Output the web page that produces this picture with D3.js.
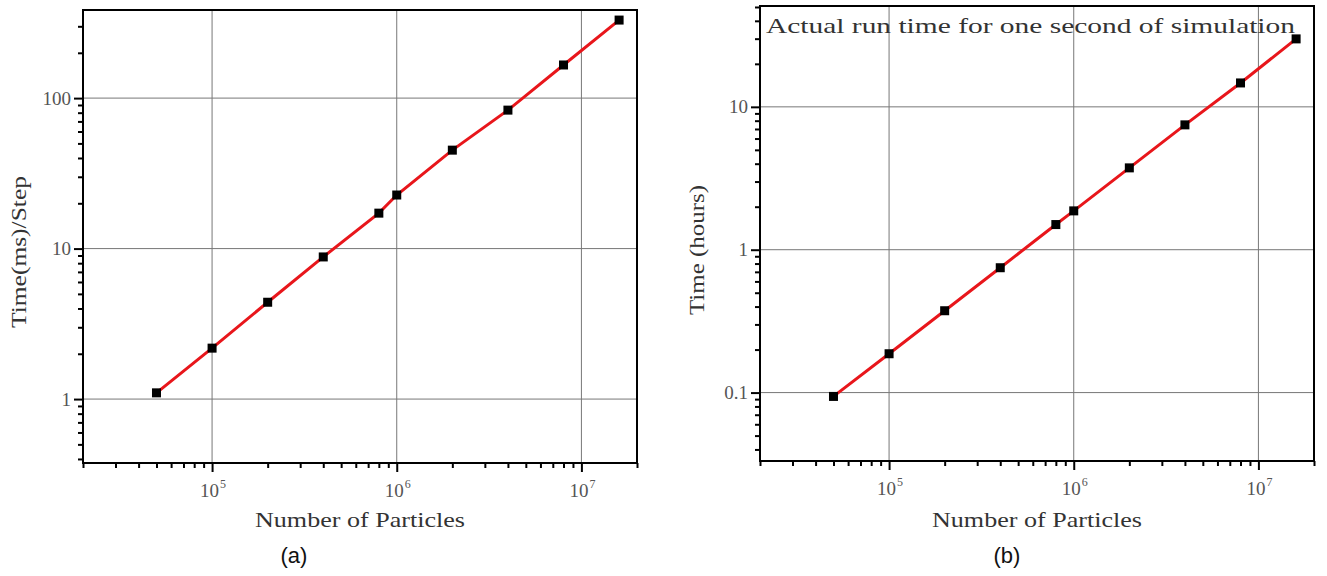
<!DOCTYPE html>
<html lang="en">
<head>
  <meta charset="UTF-8">
  <title>Run time vs number of particles</title>
  <style>
    body, html {
      margin: 0;
      padding: 0;
      background: #fff;
    }
    svg { display: block; }
    .ticklabel { font-family: 'Liberation Serif', serif; fill: #555; }
  </style>
</head>
<body>
  <svg id="chart" width="1327" height="576"></svg>

  <script src="https://d3js.org/d3.v7.min.js"></script>
  <script>
    // -------- DATA ------------
    const particles = [5e4, 1e5, 2e5, 4e5, 8e5, 1e6, 2e6, 4e6, 8e6, 1.6e7]
    // (a) time per step in ms
    const timeMsPerStep = [1.1, 2.18, 4.4, 8.8, 17.2, 22.7, 45.1, 83.2, 166, 330]
    // (b) wall clock hours for one simulated second
    const timeHours = [0.094, 0.187, 0.374, 0.748, 1.5, 1.87, 3.74, 7.48, 14.7, 29.9]

    const xMajorTicks = [1e5, 1e6, 1e7]
    const yMajorTicksA = [1, 10, 100]
    const yMajorTicksB = [0.1, 1, 10]
    const yTickLabelsA = ['1', '10', '100']
    const yTickLabelsB = ['0.1', '1', '10']

    const xLabel = 'Number of Particles'
    const yLabelA = 'Time(ms)/Step'
    const yLabelB = 'Time  (hours)'
    const titleB = 'Actual run time for one second of simulation'
    const panelNames = ['(a)', '(b)']

    const svg = d3.select('#chart')

    // -------- ONE PANEL ------------
    function drawPanel(cfg) {
      const x = d3.scaleLog().domain(cfg.xDomain).range([cfg.left, cfg.right])
      const y = d3.scaleLog().domain(cfg.yDomain).range([cfg.bottom, cfg.top])
      const g = svg.append('g')

      // grid lines at the decades
      g.selectAll('.vgrid')
        .data(xMajorTicks)
        .join('line')
        .attr('x1', d => x(d)).attr('x2', d => x(d))
        .attr('y1', cfg.top).attr('y2', cfg.bottom)
        .attr('stroke', '#777').attr('stroke-width', 1)
      g.selectAll('.hgrid')
        .data(cfg.yTicks)
        .join('line')
        .attr('x1', cfg.left).attr('x2', cfg.right)
        .attr('y1', d => y(d)).attr('y2', d => y(d))
        .attr('stroke', '#777').attr('stroke-width', 1)

      // minor ticks
      const minorX = x.ticks().filter(d => !xMajorTicks.includes(d))
      const minorY = y.ticks().filter(d => !cfg.yTicks.some(t => Math.abs(t - d) / t < 1e-9))

      g.append('g')
        .attr('transform', `translate(0, ${cfg.bottom})`)
        .call(d3.axisBottom(x).tickValues(minorX).tickSize(5).tickFormat(''))
        .call(a => a.select('.domain').remove())
        .selectAll('line').attr('stroke', '#000').attr('stroke-width', 2)

      g.append('g')
        .attr('transform', `translate(${cfg.left}, 0)`)
        .call(d3.axisLeft(y).tickValues(minorY).tickSize(5).tickFormat(''))
        .call(a => a.select('.domain').remove())
        .selectAll('line').attr('stroke', '#000').attr('stroke-width', 2)

      // major ticks (labels drawn separately below)
      g.append('g')
        .attr('transform', `translate(0, ${cfg.bottom})`)
        .call(d3.axisBottom(x).tickValues(xMajorTicks).tickSize(9).tickFormat(''))
        .call(a => a.select('.domain').remove())
        .selectAll('line').attr('stroke', '#000').attr('stroke-width', 2)

      g.append('g')
        .attr('transform', `translate(${cfg.left}, 0)`)
        .call(d3.axisLeft(y).tickValues(cfg.yTicks).tickSize(9).tickFormat(''))
        .call(a => a.select('.domain').remove())
        .selectAll('line').attr('stroke', '#000').attr('stroke-width', 2)

      // x tick labels: 10 with superscript exponent
      const xl = g.selectAll('.xlab')
        .data(xMajorTicks)
        .join('text')
        .attr('class', 'ticklabel')
        .attr('x', d => x(d) - 12)
        .attr('y', cfg.bottom + 34)
        .style('font-size', '19px')
      xl.append('tspan').text('10')
      xl.append('tspan')
        .style('font-size', '12px')
        .attr('dx', 1)
        .attr('dy', -9)
        .text(d => Math.round(Math.log10(d)))

      // y tick labels
      g.selectAll('.ylab')
        .data(cfg.yTicks)
        .join('text')
        .attr('class', 'ticklabel')
        .attr('x', cfg.left - 12)
        .attr('y', d => y(d))
        .attr('dy', '0.35em')
        .attr('text-anchor', 'end')
        .style('font-size', '19px')
        .text((d, i) => cfg.yTickLabels[i])

      // frame
      g.append('rect')
        .attr('x', cfg.left).attr('y', cfg.top)
        .attr('width', cfg.right - cfg.left).attr('height', cfg.bottom - cfg.top)
        .attr('fill', 'none').attr('stroke', '#000').attr('stroke-width', 2)

      // series
      const line = d3.line().x(d => x(d[0])).y(d => y(d[1]))
      const pts = d3.zip(particles, cfg.values)
      g.append('path')
        .datum(pts)
        .attr('d', line)
        .attr('fill', 'none')
        .attr('stroke', '#e8161b')
        .attr('stroke-width', 3)

      const s = 9
      g.selectAll('.marker')
        .data(pts)
        .join('rect')
        .attr('x', d => x(d[0]) - s / 2)
        .attr('y', d => y(d[1]) - s / 2)
        .attr('width', s).attr('height', s)
        .attr('fill', '#000')

      // axis titles
      const mid = (cfg.left + cfg.right) / 2
      g.append('text')
        .attr('x', mid - 105)
        .attr('y', 527)
        .attr('textLength', 210)
        .attr('lengthAdjust', 'spacingAndGlyphs')
        .style('font-family', "'Liberation Serif', serif")
        .style('font-size', '21px')
        .attr('fill', '#333')
        .text(xLabel)

      g.append('text')
        .attr('transform', `translate(${cfg.yLabelX}, ${cfg.yLabelY}) rotate(-90)`)
        .attr('x', -cfg.yLabelLen / 2)
        .attr('textLength', cfg.yLabelLen)
        .attr('lengthAdjust', 'spacingAndGlyphs')
        .style('font-family', "'Liberation Serif', serif")
        .style('font-size', '20px')
        .attr('fill', '#333')
        .text(cfg.yLabel)

      if (cfg.title) {
        g.append('text')
          .attr('x', cfg.left + 6)
          .attr('y', 33)
          .attr('textLength', 529)
          .attr('lengthAdjust', 'spacingAndGlyphs')
          .style('font-family', "'Liberation Serif', serif")
          .style('font-size', '21px')
          .attr('fill', '#333')
          .text(cfg.title)
      }

      // panel letter
      g.append('text')
        .attr('x', cfg.panelX)
        .attr('y', 563)
        .attr('text-anchor', 'middle')
        .style('font-family', "'Liberation Sans', Arial, sans-serif")
        .style('font-size', '22px')
        .attr('fill', '#111')
        .text(cfg.panel)
    }

    drawPanel({
      left: 83, right: 637, top: 10, bottom: 463,
      xDomain: [2e4, 2e7], yDomain: [0.376, 385],
      yTicks: yMajorTicksA, yTickLabels: yTickLabelsA,
      values: timeMsPerStep,
      yLabel: yLabelA, yLabelX: 26, yLabelY: 252, yLabelLen: 152,
      panel: panelNames[0], panelX: 294
    })

    drawPanel({
      left: 760, right: 1314, top: 6, bottom: 461,
      xDomain: [2e4, 2e7], yDomain: [0.0332, 50.8],
      yTicks: yMajorTicksB, yTickLabels: yTickLabelsB,
      values: timeHours,
      yLabel: yLabelB, yLabelX: 704, yLabelY: 250, yLabelLen: 130,
      title: titleB,
      panel: panelNames[1], panelX: 1007
    })
  </script>
</body>
</html>
